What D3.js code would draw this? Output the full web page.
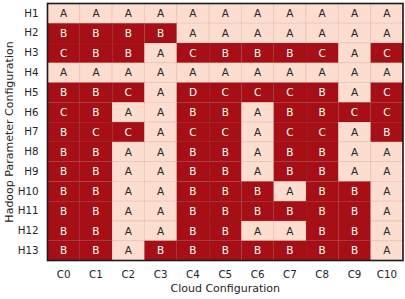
<!DOCTYPE html>
<html>
<head>
<meta charset="utf-8">
<script src="https://cdn.jsdelivr.net/npm/d3@7"></script>
<style>
  body { margin: 0; background: #fff; }
  text { font-family: "DejaVu Sans", sans-serif; }
</style>
</head>
<body>
<div class="canvas"></div>
<script>
// rows / columns of the grid
const hadoopConfigs = ['H1','H2','H3','H4','H5','H6','H7','H8','H9','H10','H11','H12','H13'];
const cloudConfigs = ['C0','C1','C2','C3','C4','C5','C6','C7','C8','C9','C10'];

// one letter per cloud config, for each Hadoop config
const H1  = ['A','A','A','A','A','A','A','A','A','A','A'];
const H2  = ['B','B','B','B','A','A','A','A','A','A','A'];
const H3  = ['C','B','B','A','C','B','B','B','C','A','C'];
const H4  = ['A','A','A','A','A','A','A','A','A','A','A'];
const H5  = ['B','B','C','A','D','C','C','C','B','A','C'];
const H6  = ['C','B','A','A','B','B','A','B','B','C','C'];
const H7  = ['B','C','C','A','C','C','A','C','C','A','B'];
const H8  = ['B','B','A','A','B','B','A','B','B','A','A'];
const H9  = ['B','B','A','A','B','B','A','B','B','A','A'];
const H10 = ['B','B','A','A','B','B','B','A','B','B','A'];
const H11 = ['B','B','A','A','B','B','B','B','B','B','A'];
const H12 = ['B','B','A','A','B','B','A','A','B','B','A'];
const H13 = ['B','B','A','B','B','B','B','B','B','B','A'];
const grid = [H1,H2,H3,H4,H5,H6,H7,H8,H9,H10,H11,H12,H13];

const dims = { width: 405, height: 299 };
const plot = { left: 47.5, right: 403, top: 3.5, bottom: 260.5 };

const svg = d3.select('.canvas')
            .append('svg')
            .attr('width', dims.width)
            .attr('height', dims.height);

const x = d3.scaleBand().domain(cloudConfigs).range([plot.left, plot.right]);
const y = d3.scaleBand().domain(hadoopConfigs).range([plot.top, plot.bottom]);

const fill = d3.scaleOrdinal()
              .domain(['A','B','C','D'])
              .range(['#fdddd0', '#a50f15', '#a50f15', '#a50f15']);
const ink = d3.scaleOrdinal()
              .domain(['A','B','C','D'])
              .range(['#262626', '#ffffff', '#ffffff', '#ffffff']);

// flatten into cells
const cells = [];
grid.forEach((row, i) => {
    row.forEach((v, j) => cells.push({ h: hadoopConfigs[i], c: cloudConfigs[j], v }));
});

const cellGroup = svg.append('g');

cellGroup.selectAll('rect')
    .data(cells)
    .enter()
    .append('rect')
    .attr('x', d => x(d.c))
    .attr('y', d => y(d.h))
    .attr('width', x.bandwidth())
    .attr('height', y.bandwidth())
    .attr('fill', d => fill(d.v))
    .attr('stroke', 'rgba(120,40,30,0.12)')
    .attr('stroke-width', 0.8);

cellGroup.selectAll('text')
    .data(cells)
    .enter()
    .append('text')
    .attr('x', d => x(d.c) + x.bandwidth() / 2)
    .attr('y', d => y(d.h) + y.bandwidth() / 2)
    .attr('dy', '0.36em')
    .attr('text-anchor', 'middle')
    .attr('font-size', 10.5)
    .attr('fill', d => ink(d.v))
    .text(d => d.v);

// frame
svg.append('rect')
    .attr('x', plot.left)
    .attr('y', plot.top)
    .attr('width', plot.right - plot.left)
    .attr('height', plot.bottom - plot.top)
    .attr('fill', 'none')
    .attr('stroke', '#1a1a1a')
    .attr('stroke-width', 1.6);

// axes
const xAxis = svg.append('g')
    .attr('transform', `translate(0, ${plot.bottom})`)
    .call(d3.axisBottom(x).tickSize(0).tickPadding(10));
const yAxis = svg.append('g')
    .attr('transform', `translate(${plot.left}, 0)`)
    .call(d3.axisLeft(y).tickSize(0).tickPadding(9));

[xAxis, yAxis].forEach(a => {
    a.select('.domain').remove();
    a.selectAll('text')
     .attr('font-family', '"DejaVu Sans", sans-serif')
     .attr('font-size', 10.3)
     .attr('fill', '#262626');
});

// axis titles
svg.append('text')
    .attr('x', (plot.left + plot.right) / 2)
    .attr('y', 292)
    .attr('text-anchor', 'middle')
    .attr('font-size', 11)
    .attr('fill', '#262626')
    .text('Cloud Configuration');

svg.append('text')
    .attr('transform', `translate(13, ${(plot.top + plot.bottom) / 2}) rotate(-90)`)
    .attr('text-anchor', 'middle')
    .attr('font-size', 11)
    .attr('fill', '#262626')
    .text('Hadoop Parameter Configuration');
</script>
</body>
</html>
